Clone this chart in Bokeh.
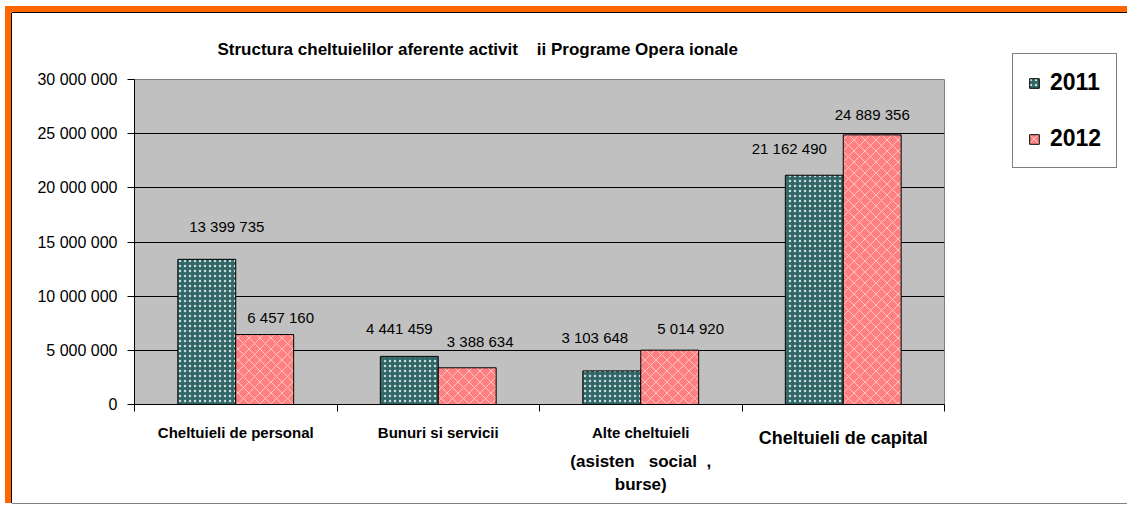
from bokeh.plotting import figure
from bokeh.models import (Range1d, FixedTicker, ColumnDataSource, LabelSet,
                          Legend, LegendItem, LinearAxis)
from bokeh.core.properties import value
from bokeh.layouts import column
from bokeh.embed import file_html
from bokeh.resources import INLINE

# ---- data ----
categories = ["Cheltuieli de personal", "Bunuri si servicii",
              "Alte cheltuieli", "Cheltuieli de capital"]
category_extra = "(asisten\u00a0\u00a0\u00a0social\u00a0\u00a0,\nburse)"
values_2011 = [13399735, 4441459, 3103648, 21162490]
values_2012 = [6457160, 3388634, 5014920, 24889356]
series = ["2011", "2012"]
yticks = [0, 5000000, 10000000, 15000000, 20000000, 25000000, 30000000]
title_text = "Structura cheltuielilor aferente activit\u00a0\u00a0\u00a0\u00a0ii Programe Opera\u00a0ionale"

def fmt(v):
    return f"{v:,}".replace(",", " ")

FONT = "Liberation Sans"
YMAX = 30000000

p = figure(width=1112, height=490, output_backend="svg", toolbar_location=None,
           x_range=Range1d(0, len(categories)), y_range=Range1d(0, YMAX),
           frame_width=810, frame_height=325,
           min_border_left=122, min_border_right=180, min_border_top=66,
           min_border_bottom=99)
p.title.text = title_text
p.title.align = "left"
p.title.offset = 83
p.title.text_font = FONT
p.title.text_font_size = "17px"
p.title.text_font_style = "bold"
p.title.text_color = "black"
p.title.standoff = 41

p.background_fill_color = "#C0C0C0"
p.border_fill_color = "white"
p.outline_line_color = "#808080"
p.outline_line_width = 1

bw = 0.286
xs = list(range(len(categories)))
x11 = [i + 0.5 - bw / 2 for i in xs]
x12 = [i + 0.5 + bw / 2 for i in xs]

r11 = p.vbar(x=x11, top=values_2011, width=bw, bottom=0,
             fill_color="#336666", line_color="black", line_width=1,
             hatch_pattern="dot", hatch_color="#D8ECEC", hatch_scale=5,
             hatch_weight=1, hatch_alpha=0.9)
r12 = p.vbar(x=x12, top=values_2012, width=bw, bottom=0,
             fill_color="#FF8080", line_color="black", line_width=1,
             hatch_pattern="diagonal_cross", hatch_color="#FFD4D4", hatch_scale=11,
             hatch_weight=1, hatch_alpha=0.8)

# y axis
p.yaxis.ticker = FixedTicker(ticks=yticks, minor_ticks=[])
p.yaxis.major_label_overrides = {t: fmt(t) for t in yticks}
p.yaxis.major_label_text_font = FONT
p.yaxis.major_label_text_font_size = "16px"
p.yaxis.major_label_text_color = "black"
p.yaxis.major_tick_in = 0
p.yaxis.major_tick_out = 7
p.yaxis.minor_tick_out = 0
p.yaxis.minor_tick_in = 0
p.yaxis.axis_line_color = "black"
p.yaxis.major_label_standoff = 10

p.xgrid.visible = False
p.ygrid.ticker = FixedTicker(ticks=yticks, minor_ticks=[])
p.ygrid.grid_line_color = "black"
p.ygrid.grid_line_width = 1
p.ygrid.grid_line_alpha = 1

# x axis: category boundaries as (minor) tick marks, names at centres
centers = [i + 0.5 for i in xs]
p.xaxis.ticker = FixedTicker(ticks=centers[:3],
                             minor_ticks=list(range(len(categories) + 1)))
p.xaxis.major_label_overrides = {centers[i]: categories[i] for i in range(3)}
p.xaxis.major_tick_in = 0
p.xaxis.major_tick_out = 0
p.xaxis.minor_tick_in = 0
p.xaxis.minor_tick_out = 7
p.xaxis.minor_tick_line_color = "black"
p.xaxis.axis_line_color = "black"
p.xaxis.major_label_text_font = FONT
p.xaxis.major_label_text_font_size = "15px"
p.xaxis.major_label_text_font_style = "bold"
p.xaxis.major_label_text_color = "black"
p.xaxis.major_label_standoff = 12

ax_cap = LinearAxis(ticker=FixedTicker(ticks=[centers[3]], minor_ticks=[]),
                    major_label_overrides={centers[3]: categories[3]})
ax_ext = LinearAxis(ticker=FixedTicker(ticks=[centers[2]], minor_ticks=[]),
                    major_label_overrides={centers[2]: category_extra})
for ax, size, so in [(ax_cap, "18px", -16), (ax_ext, "17px", 1)]:
    ax.axis_line_color = None
    ax.major_tick_in = 0
    ax.major_tick_out = 0
    ax.minor_tick_in = 0
    ax.minor_tick_out = 0
    ax.major_label_text_font = FONT
    ax.major_label_text_font_size = size
    ax.major_label_text_font_style = "bold"
    ax.major_label_text_color = "black"
    ax.major_label_standoff = so
ax_ext.major_label_text_line_height = 1.25
p.add_layout(ax_cap, "below")
p.add_layout(ax_ext, "below")

# value labels
lab_x = x11 + x12
lab_y = values_2011 + values_2012
lab_t = [fmt(v) for v in lab_y]
x_off = [20, -10, -17, -25, 16, 13, 21, 0]
y_off = [24, 19, 25, 18, 9, 18, 13, 12]
src = ColumnDataSource(dict(x=lab_x, y=lab_y, text=lab_t, xo=x_off, yo=y_off))
p.add_layout(LabelSet(x="x", y="y", text="text", x_offset="xo", y_offset="yo",
                      source=src, text_align="center", text_baseline="bottom",
                      text_font=value(FONT), text_font_size="15px",
                      text_color="black"))

legend = Legend(items=[LegendItem(label=series[0], renderers=[r11]),
                       LegendItem(label=series[1], renderers=[r12])],
                location=(68, 236), orientation="vertical")
legend.label_text_font = FONT
legend.label_text_font_size = "23px"
legend.label_text_font_style = "bold"
legend.label_text_color = "black"
legend.glyph_width = 12
legend.glyph_height = 12
legend.label_standoff = 10
legend.padding = 15
legend.spacing = 29
legend.margin = 0
legend.border_line_color = "black"
legend.border_line_width = 1
legend.background_fill_color = "white"
legend.background_fill_alpha = 1
p.add_layout(legend, "right")

p.styles = {"box-shadow": "0 -1px 0 0 black, -1px 0 0 0 black, 0 1px 0 0 #808080"}
wrap = column(p, styles={"border-top": "7px solid #FF6600",
                         "border-left": "7px solid #FF6600",
                         "margin-top": "6px", "margin-left": "5px"})

open("out.html", "w").write(file_html(wrap, INLINE))
